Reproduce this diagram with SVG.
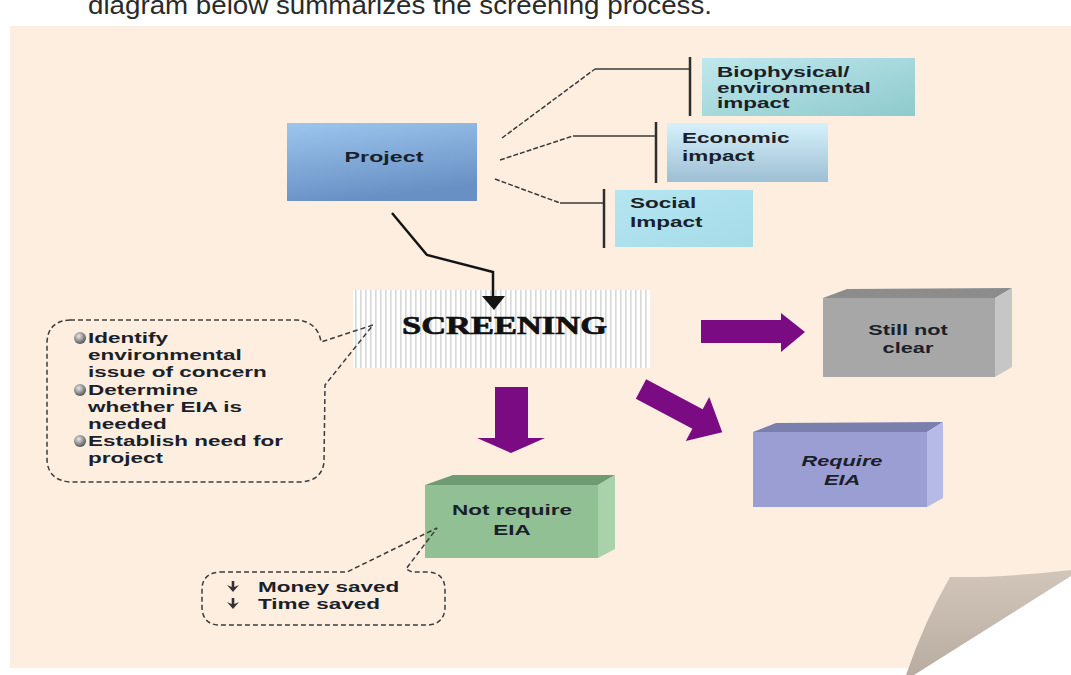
<svg xmlns="http://www.w3.org/2000/svg" width="1071" height="675" viewBox="0 0 1071 675">
<style>
.t{font-family:"Liberation Sans",Arial,sans-serif;font-weight:bold;font-size:15px;fill:#1b1f2a}
.ln{stroke:#3a3a3a;stroke-width:1.5;fill:none}
.dl{stroke:#3a3a3a;stroke-width:1.5;fill:none;stroke-dasharray:5 2}
.bar{stroke:#2e2e2e;stroke-width:2.5}
.bub{fill:none;stroke:#3c3c3c;stroke-width:1.5;stroke-dasharray:5 3}
.pa{fill:#7b0b82}
</style>
<defs>
<linearGradient id="gProj" x1="0" y1="0" x2="0.3" y2="1"><stop offset="0" stop-color="#9cc6ee"/><stop offset="1" stop-color="#6990c4"/></linearGradient>
<linearGradient id="gBio" x1="0" y1="0" x2="1" y2="1"><stop offset="0" stop-color="#bfe8ec"/><stop offset="1" stop-color="#8ecacd"/></linearGradient>
<linearGradient id="gEco" x1="0" y1="0" x2="0" y2="1"><stop offset="0" stop-color="#d6f1fc"/><stop offset="1" stop-color="#9dbfd3"/></linearGradient>
<linearGradient id="gSoc" x1="0" y1="0" x2="1" y2="1"><stop offset="0" stop-color="#b4e6f1"/><stop offset="1" stop-color="#a6dbe8"/></linearGradient>
<linearGradient id="gFold" x1="0" y1="0" x2="0" y2="1"><stop offset="0" stop-color="#d2c6ba"/><stop offset="1" stop-color="#b9ada1"/></linearGradient>
<radialGradient id="gBall" cx="0.4" cy="0.35" r="0.7"><stop offset="0" stop-color="#e8e8e8"/><stop offset="0.6" stop-color="#8a8a8a"/><stop offset="1" stop-color="#4a4a4a"/></radialGradient>
<pattern id="stripes" width="5" height="10" patternUnits="userSpaceOnUse"><rect width="5" height="10" fill="#ffffff"/><rect width="1.6" height="10" fill="#d8d8d8"/></pattern>
<path id="darr" d="M-6,-2 L0,5 L6,-2 L1.3,0 L1.3,-6 L-1.3,-6 L-1.3,0 Z" fill="#333"/>
</defs>
<rect width="1071" height="675" fill="#ffffff"/>
<text x="88" y="14" font-family="'Liberation Sans',Arial,sans-serif" font-size="25" fill="#2a2a2a" textLength="624" lengthAdjust="spacingAndGlyphs">diagram below summarizes the screening process.</text>
<rect x="10" y="26" width="1061" height="642" fill="#fdeee0"/>
<polygon points="1071,575 1071,675 912,675" fill="#ffffff"/>
<path d="M950,577 Q1000,578 1071,570 L1071,576 L914,675 L906,675 Q925,620 950,577 Z" fill="url(#gFold)"/>

<g id="project">
<rect x="287" y="123" width="190" height="78" fill="url(#gProj)"/>
<text class="t" text-anchor="middle" font-size="16" fill="#1d2b4e" transform="translate(384,162) scale(1.55,1)">Project</text>
</g>

<g id="biophysical">
<rect x="702" y="58" width="213" height="58" fill="url(#gBio)"/>
<text class="t" transform="translate(717,77) scale(1.5,1)">Biophysical/</text>
<text class="t" transform="translate(717,93) scale(1.5,1)">environmental</text>
<text class="t" transform="translate(717,108) scale(1.5,1)">impact</text>
</g>

<g id="economic">
<rect x="667" y="123" width="161" height="59" fill="url(#gEco)"/>
<text class="t" transform="translate(682,143) scale(1.5,1)">Economic</text>
<text class="t" transform="translate(682,161) scale(1.5,1)">impact</text>
</g>

<g id="social">
<rect x="615" y="190" width="138" height="57" fill="url(#gSoc)"/>
<text class="t" transform="translate(630,208) scale(1.5,1)">Social</text>
<text class="t" transform="translate(630,227) scale(1.5,1)">Impact</text>
</g>

<g id="screening">
<rect x="353" y="290" width="297" height="78" fill="url(#stripes)"/>
<text x="402" y="334" font-family="'Liberation Serif','Times New Roman',serif" font-weight="bold" font-size="26" fill="#111" stroke="#111" stroke-width="0.7" textLength="205" lengthAdjust="spacingAndGlyphs">SCREENING</text>
</g>

<g id="screening-notes">
<path class="bub" d="M70,320 H297 Q318,322 321,342 L373,325 L325,385 L324,462 Q322,481 300,482 H70 Q48,480 47,460 V342 Q48,321 70,320 Z"/>
<circle cx="80" cy="338" r="6" fill="url(#gBall)"/>
<circle cx="80" cy="390" r="6" fill="url(#gBall)"/>
<circle cx="80" cy="441" r="6" fill="url(#gBall)"/>
<text class="t" transform="translate(88,343) scale(1.5,1)">Identify</text>
<text class="t" transform="translate(88,360) scale(1.5,1)">environmental</text>
<text class="t" transform="translate(88,377) scale(1.5,1)">issue of concern</text>
<text class="t" transform="translate(88,395) scale(1.5,1)">Determine</text>
<text class="t" transform="translate(88,412) scale(1.5,1)">whether EIA is</text>
<text class="t" transform="translate(88,429) scale(1.5,1)">needed</text>
<text class="t" transform="translate(88,446) scale(1.5,1)">Establish need for</text>
<text class="t" transform="translate(88,463) scale(1.5,1)">project</text>
</g>

<g id="still-not-clear">
<polygon points="823,298 847,289 1012,288 995,298" fill="#8c8c8c"/>
<polygon points="995,298 1012,288 1012,367 995,377" fill="#c6c6c6"/>
<rect x="823" y="298" width="172" height="79" fill="#a7a7a7"/>
<text class="t" text-anchor="middle" fill="#111" transform="translate(908,335) scale(1.45,1)">Still not</text>
<text class="t" text-anchor="middle" fill="#111" transform="translate(908,353) scale(1.45,1)">clear</text>
</g>

<g id="require-eia">
<polygon points="753,432 776,423 943,422 927,432" fill="#7b7fae"/>
<polygon points="927,432 943,422 943,498 927,507" fill="#b6bae6"/>
<rect x="753" y="432" width="174" height="75" fill="#9a9ed2"/>
<text class="t" text-anchor="middle" font-style="italic" fill="#1a1a3a" transform="translate(842,466) scale(1.45,1)">Require</text>
<text class="t" text-anchor="middle" font-style="italic" fill="#1a1a3a" transform="translate(842,485) scale(1.45,1)">EIA</text>
</g>

<g id="not-require-eia">
<polygon points="425,485 453,475 615,475 598,485" fill="#6f9b72"/>
<polygon points="598,485 615,475 615,549 598,558" fill="#a9d2ab"/>
<rect x="425" y="485" width="173" height="73" fill="#90c094"/>
<text class="t" text-anchor="middle" fill="#1a2a1c" transform="translate(512,515) scale(1.5,1)">Not require</text>
<text class="t" text-anchor="middle" fill="#1a2a1c" transform="translate(512,535) scale(1.5,1)">EIA</text>
</g>

<g id="savings-notes">
<path class="bub" d="M220,572 H347 L437,528 L406,569 L412,572 H428 Q444,573 445,588 V608 Q444,624 428,625 H218 Q203,624 202,608 V588 Q203,573 220,572 Z"/>
<use href="#darr" x="233" y="587"/>
<use href="#darr" x="233" y="604"/>
<text class="t" transform="translate(258,592) scale(1.5,1)">Money saved</text>
<text class="t" transform="translate(258,609) scale(1.5,1)">Time saved</text>
</g>

<g id="connectors">
<polyline class="dl" points="502,138 595,69"/>
<line class="ln" x1="595" y1="69" x2="690" y2="69"/>
<line class="bar" x1="690" y1="57" x2="690" y2="116"/>
<polyline class="dl" points="500,160 573,136"/>
<line class="ln" x1="573" y1="136" x2="656" y2="136"/>
<line class="bar" x1="656" y1="122" x2="656" y2="183"/>
<polyline class="dl" points="495,179 560,203"/>
<line class="ln" x1="560" y1="203" x2="604" y2="203"/>
<line class="bar" x1="604" y1="189" x2="604" y2="248"/>
<polyline points="392,213 427,255 493,272 493,298" fill="none" stroke="#141414" stroke-width="2.5"/>
<polygon points="482,296 505,296 494,310" fill="#141414"/>
<path class="pa" d="M701,320 H781 V313 L805,332 L781,352 V343 H701 Z"/>
<path class="pa" d="M495,387 H528 V438 H545 L511,453 L477,438 H495 Z"/>
<path class="pa" transform="translate(641,389) rotate(28)" d="M0,-11 H64 V-25 L92,0 L64,25 V11 H0 Z"/>
</g>
</svg>
